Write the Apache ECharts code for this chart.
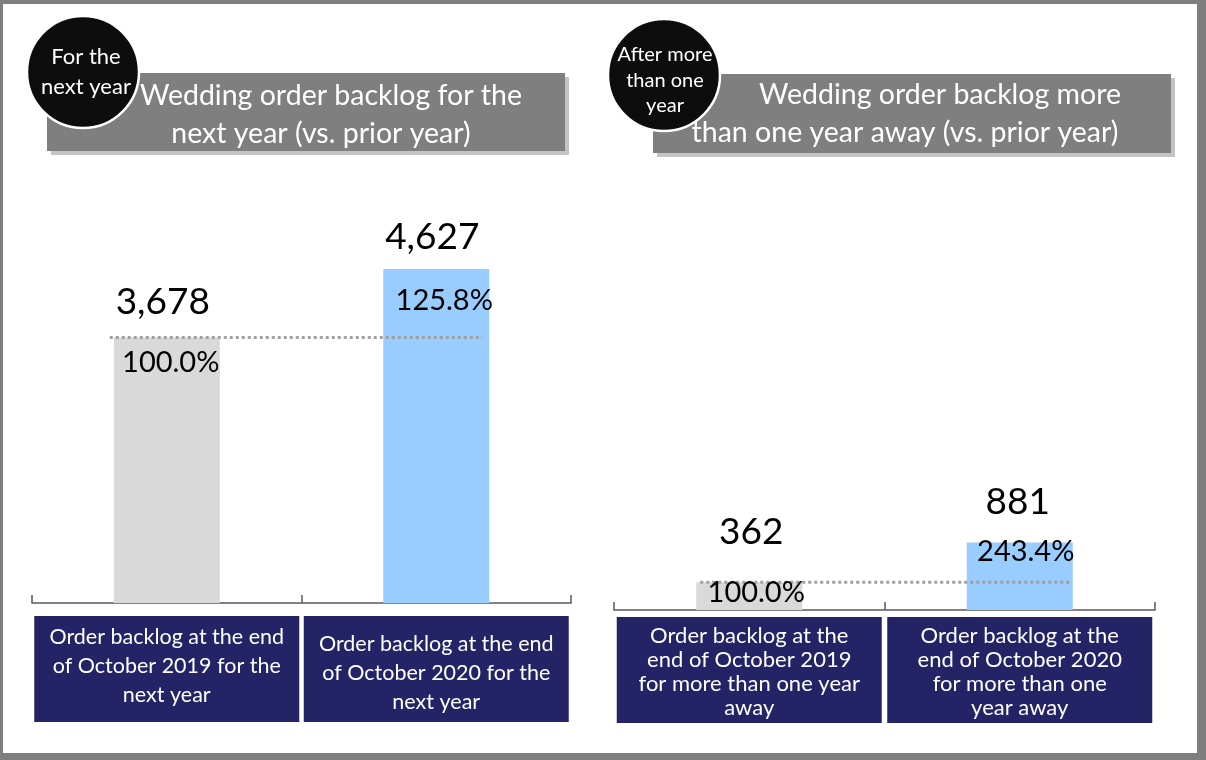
<!DOCTYPE html>
<html>
<head>
<meta charset="utf-8">
<script src="https://cdn.jsdelivr.net/npm/echarts@6/dist/echarts.min.js"></script>
<style>
  html, body { margin: 0; padding: 0; background: #fff; }
  #chart { width: 1206px; height: 760px; }
</style>
</head>
<body>
<div id="chart"></div>
<script>
// Wedding order backlog at the end of October, prior year vs current year
const nextYearCategories = [
  'Order backlog at the end\nof October 2019 for the\nnext year',
  'Order backlog at the end\nof October 2020 for the\nnext year'
];
const nextYearValues = [3678, 4627];

const laterCategories = [
  'Order backlog at the\nend of October 2019\nfor more than one year\naway',
  'Order backlog at the\nend of October 2020\nfor more than one\nyear away'
];
const laterValues = [362, 881];

const panelTitles = [
  ['Wedding order backlog for the', 'next year (vs. prior year)'],
  ['Wedding order backlog more', 'than one year away (vs. prior year)']
];
const badgeTexts = [
  ['For the', 'next year'],
  ['After more', 'than one', 'year']
];

// ---- styling / layout ----
const FONT = 'Lato, "Open Sans", sans-serif';
const BAR_COLORS = ['#d9d9d9', '#99ccff'];
const NAVY = '#232366';
const BAR_WIDTH = 106;
const Y_MAX = 5000;

const panels = [
  {
    categories: nextYearCategories, values: nextYearValues,
    grid: { left: 32, width: 539, top: 242, bottom: 157 },
    valueOffsets: [[-4, -35], [-4, -32]],
    pctOffsets: [[4, 25], [8, 32]],
    lineExtent: [-57, 46],
    labelMargin: 13, labelFont: 21.5, labelLine: 29,
    labelPads: [[7, 0, 12, 0], [14, 0, 5, 0]]
  },
  {
    categories: laterCategories, values: laterValues,
    grid: { left: 614, width: 541, top: 227, bottom: 150 },
    valueOffsets: [[2, -50], [-2, -40]],
    pctOffsets: [[7, 10], [6, 9]],
    lineExtent: [-49, 52],
    labelMargin: 7, labelFont: 22, labelLine: 24,
    labelPads: [[7, 0, 3, 0], [7, 0, 3, 0]]
  }
];

const fmtNum = v => v.toLocaleString('en-US');
const fmtPct = (v, base) => (v / base * 100).toFixed(1) + '%';

const grids = [], xAxes = [], yAxes = [], series = [];

panels.forEach((p, i) => {
  grids.push(Object.assign({ containLabel: false }, p.grid));

  xAxes.push({
    type: 'category',
    gridIndex: i,
    data: p.categories.map((name, k) => ({
      value: name,
      textStyle: { padding: p.labelPads[k] }
    })),
    axisLine: { show: true, lineStyle: { color: '#595959', width: 1.5 } },
    axisTick: { show: true, inside: true, length: 8, lineStyle: { color: '#595959', width: 1.5 } },
    axisLabel: {
      interval: 0,
      margin: p.labelMargin,
      color: '#ffffff',
      fontFamily: FONT,
      fontSize: p.labelFont,
      lineHeight: p.labelLine,
      backgroundColor: NAVY,
      width: 265,
      align: 'center',
      overflow: 'none'
    },
    splitLine: { show: false }
  });

  yAxes.push({ type: 'value', gridIndex: i, min: 0, max: Y_MAX, show: false, splitLine: { show: false } });

  // main bars with value labels above
  series.push({
    type: 'bar',
    xAxisIndex: i, yAxisIndex: i,
    barWidth: BAR_WIDTH,
    barGap: '-100%',
    silent: true,
    data: p.values.map((v, k) => ({
      value: v,
      itemStyle: { color: BAR_COLORS[k] },
      label: { offset: p.valueOffsets[k] }
    })),
    label: {
      show: true,
      position: ['50%', 0],
      align: 'center',
      verticalAlign: 'middle',
      color: '#000',
      fontFamily: FONT,
      fontSize: 37,
      formatter: d => fmtNum(d.value)
    },
    z: 2
  });

  // ratio to prior year, printed inside the top of each bar
  series.push({
    type: 'bar',
    xAxisIndex: i, yAxisIndex: i,
    barWidth: BAR_WIDTH,
    barGap: '-100%',
    silent: true,
    itemStyle: { color: 'rgba(0,0,0,0)' },
    data: p.values.map((v, k) => ({
      value: v,
      label: { offset: p.pctOffsets[k] }
    })),
    label: {
      show: true,
      position: ['50%', 0],
      align: 'center',
      verticalAlign: 'middle',
      color: '#000',
      fontFamily: FONT,
      fontSize: 29,
      formatter: d => fmtPct(d.value, p.values[0])
    },
    z: 4
  });

  // dotted reference line at the prior-year level
  series.push({
    type: 'custom',
    xAxisIndex: i, yAxisIndex: i,
    silent: true,
    data: [[0, p.values[0]]],
    renderItem: (params, api) => {
      const v = api.value(1);
      const a = api.coord([0, v]);
      const b = api.coord([1, v]);
      return {
        type: 'line',
        shape: { x1: a[0] + p.lineExtent[0], y1: a[1], x2: b[0] + p.lineExtent[1], y2: b[1] },
        style: { stroke: '#a0a0a0', lineWidth: 3, lineDash: [3, 3] }
      };
    },
    z: 3
  });
});

// title banners and round badges
const graphics = [
  { type: 'rect', z: 0, shape: { x: 3, y: 4, width: 1194, height: 749 }, style: { fill: '#ffffff' } },

  { type: 'rect', z: 1, shape: { x: 51, y: 77, width: 518, height: 78 }, style: { fill: '#c4c4c4' } },
  { type: 'rect', z: 1, shape: { x: 47, y: 73, width: 518, height: 78 }, style: { fill: '#7f7f7f' } },
  { type: 'rect', z: 1, shape: { x: 657, y: 78, width: 518, height: 79 }, style: { fill: '#c4c4c4' } },
  { type: 'rect', z: 1, shape: { x: 653, y: 74, width: 518, height: 79 }, style: { fill: '#7f7f7f' } }
];

const titleSpots = [[[331, 96], [321, 134]], [[940, 95], [905, 133]]];
panelTitles.forEach((lines, i) => {
  lines.forEach((t, k) => {
    graphics.push({
      type: 'text', z: 2,
      x: titleSpots[i][k][0], y: titleSpots[i][k][1],
      style: { text: t, fill: '#ffffff', fontFamily: FONT, fontSize: 28.5, align: 'center', verticalAlign: 'middle' }
    });
  });
});

const badges = [
  { cx: 83, cy: 72, r: 56, font: 22, lines: [[86, 57], [86, 87]] },
  { cx: 664, cy: 75, r: 56, font: 20, lines: [[665, 55], [665, 81], [665, 106]] }
];
badges.forEach((b, i) => {
  graphics.push({
    type: 'circle', z: 3,
    shape: { cx: b.cx, cy: b.cy, r: b.r },
    style: { fill: '#0d0d0d', stroke: '#ffffff', lineWidth: 2.5 }
  });
  badgeTexts[i].forEach((t, k) => {
    graphics.push({
      type: 'text', z: 4,
      x: b.lines[k][0], y: b.lines[k][1],
      style: { text: t, fill: '#ffffff', fontFamily: FONT, fontSize: b.font, align: 'center', verticalAlign: 'middle' }
    });
  });
});

const chart = echarts.init(document.getElementById('chart'), null, { renderer: 'canvas' });
chart.setOption({
  animation: false,
  backgroundColor: '#7f7f7f',
  grid: grids,
  xAxis: xAxes,
  yAxis: yAxes,
  series: series,
  graphic: { elements: graphics }
});
</script>
</body>
</html>
